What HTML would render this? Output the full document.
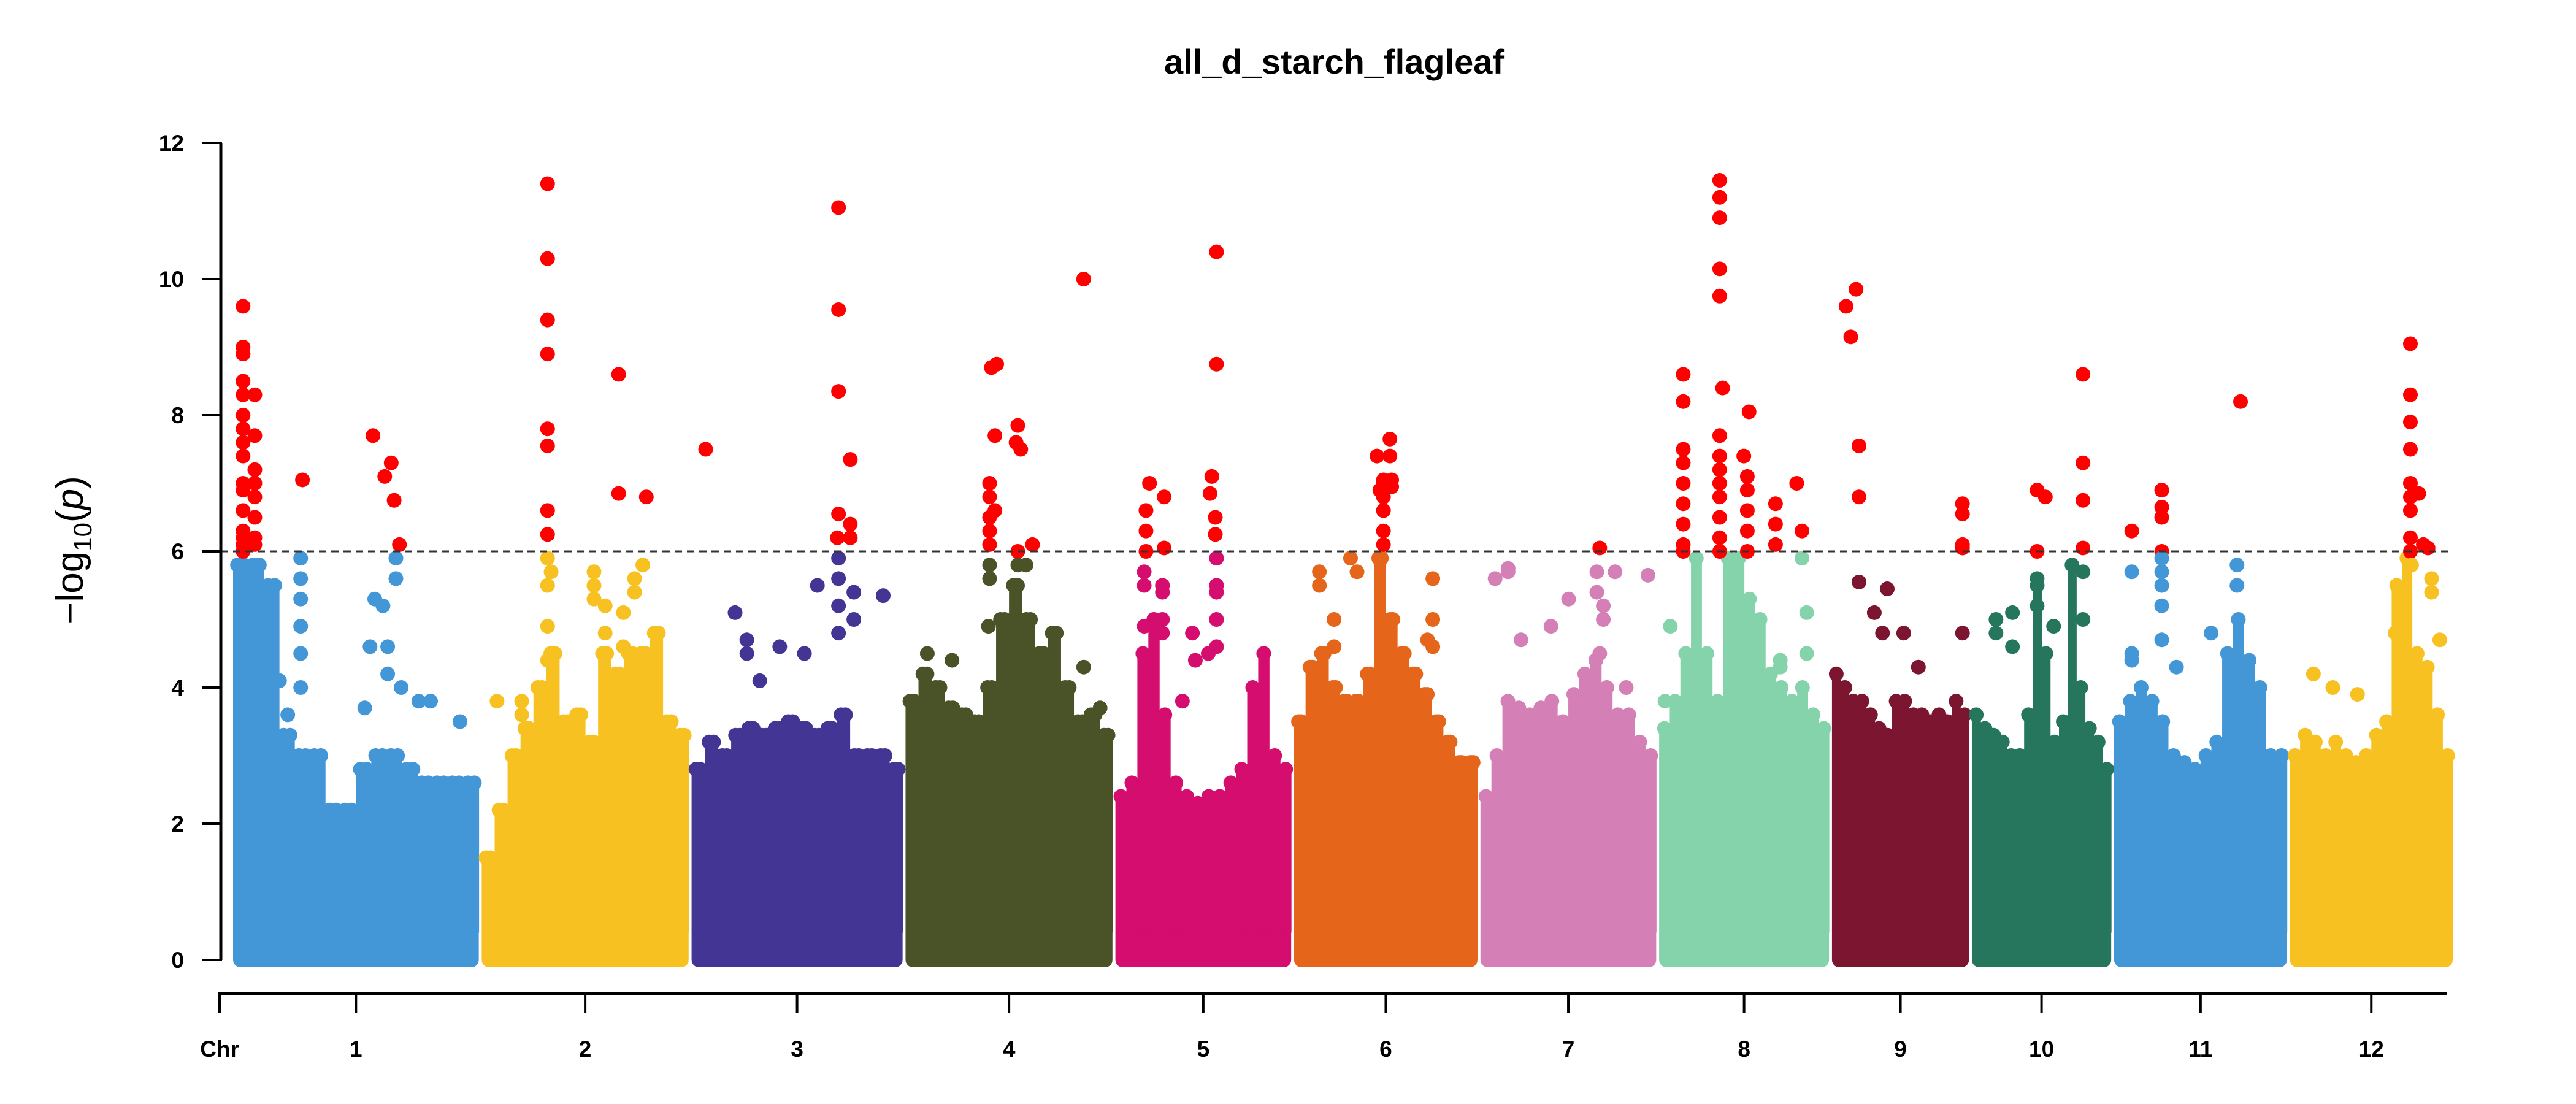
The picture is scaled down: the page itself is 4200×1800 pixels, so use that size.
<!DOCTYPE html>
<html><head><meta charset="utf-8"><style>
html,body{margin:0;padding:0;background:#fff;}
svg{display:block;font-family:"Liberation Sans",Arial,sans-serif;}
</style></head><body>
<svg id="chart" width="4200" height="1800" viewBox="0 0 4200 1800" xmlns="http://www.w3.org/2000/svg">
<rect width="4200" height="1800" fill="#fff"/>
<text x="2175" y="120" text-anchor="middle" font-size="56" font-weight="bold">all_d_starch_flagleaf</text>
<g id="marks"></g>
<g id="axes"></g>
<text transform="translate(135,897) rotate(-90)" text-anchor="middle" font-size="62">−log<tspan font-size="42" dy="14">10</tspan><tspan dy="-14">(</tspan><tspan font-style="italic">p</tspan>)</text>
</svg>
<script>
const chrNames = ["1","2","3","4","5","6","7","8","9","10","11","12"];
const chrLengths = [41.8,35.2,35.9,35.2,29.9,31.2,29.9,28.9,23.3,23.7,29.4,27.7];
const chrColors = ["#4397d7","#f7c122","#433594","#4a5328","#d50d6f","#e5651a","#d480b7","#84d3ab","#7b1530","#26765e","#4397d7","#f7c122"];
const yTicks = [0,2,4,6,8,10,12];
const threshold = 6;
// dense-background envelope (-log10 p) per chromosome, 16 equal bins
const envelopes = [
 [5.8,5.8,5.5,3.3,3.0,3.0,2.2,2.2,2.8,3.0,3.0,2.8,2.6,2.6,2.6,2.6],
 [1.5,2.2,3.0,3.4,4.0,4.5,3.5,3.6,3.2,4.5,4.2,4.5,4.5,4.8,3.5,3.3],
 [2.8,3.2,3.0,3.3,3.4,3.3,3.4,3.5,3.4,3.3,3.4,3.6,3.0,3.0,3.0,2.8],
 [3.8,4.2,4.0,3.7,3.6,3.5,4.0,5.0,5.5,5.0,4.5,4.8,4.0,3.5,3.6,3.3],
 [2.4,2.6,4.5,5.0,3.6,2.6,2.4,2.3,2.4,2.4,2.6,2.8,4.0,4.5,3.0,2.8],
 [3.5,4.3,4.5,4.0,3.8,3.8,4.2,5.9,5.0,4.5,4.2,3.9,3.5,3.2,2.9,2.9],
 [2.4,3.0,3.8,3.7,3.6,3.7,3.8,3.5,3.9,4.2,4.4,4.0,3.6,3.6,3.2,3.0],
 [3.4,3.8,4.5,5.9,4.5,3.8,5.9,5.9,5.3,5.0,4.2,4.0,3.8,4.0,3.6,3.4],
 [4.2,4.0,3.8,3.8,3.6,3.4,3.3,3.8,3.8,3.6,3.6,3.5,3.6,3.5,3.8,3.6],
 [3.6,3.4,3.3,3.2,3.0,3.0,3.6,5.5,4.5,3.2,3.5,5.8,4.0,3.4,3.2,2.8],
 [3.5,3.8,4.0,3.8,3.5,3.0,2.9,2.8,3.0,3.2,4.5,5.0,4.4,4.0,3.0,3.0],
 [3.0,3.3,3.2,3.0,3.2,3.0,2.9,3.0,3.3,3.5,5.5,5.9,4.5,4.3,3.6,3.0]
];
// individual SNPs: chromosome index, position (Mb), -log10 p
const snpChr = [];
const snpPos = [];
const snpVal = [];
const snpList = [
 [0,1.7,[9.6,9.0,8.9,8.5,8.3,8.0,7.8,7.6,7.4,7.0,6.9,6.6,6.3,6.2,6.1,6.0]],
 [0,3.7,[8.3,7.7,7.2,7.0,6.8,6.5,6.2,6.1]],
 [0,11.8,[7.05]],[0,23.8,[7.7]],[0,26.9,[7.3]],[0,25.8,[7.1]],[0,27.4,[6.75]],[0,28.3,[6.1]],
 [0,11.5,[5.9,5.6,5.3,4.9,4.5,4.0]],[0,9.3,[3.6]],[0,7.9,[4.1]],[0,24.1,[5.3]],[0,25.5,[5.2]],[0,26.3,[4.6,4.2]],
 [0,27.7,[5.9,5.6]],[0,23.3,[4.6]],[0,22.4,[3.7]],[0,28.6,[4.0]],[0,31.6,[3.8]],[0,33.6,[3.8]],[0,38.6,[3.5]],
 [1,11.2,[11.4,10.3,9.4,8.9,7.8,7.55,6.6,6.25,5.9,5.5,4.9,4.4]],[1,23.3,[8.6,6.85]],[1,28.0,[6.8]],
 [1,11.8,[5.7]],[1,19.1,[5.7,5.5,5.3]],[1,21.0,[5.2,4.8]],[1,26.0,[5.6,5.4]],[1,27.4,[5.8]],[1,24.1,[5.1,4.6]],[1,6.8,[3.8,3.6]],[1,2.6,[3.8]],
 [2,2.4,[7.5]],[2,25.0,[11.05,9.55,8.35,6.55,5.9,5.6,5.2,4.8]],[2,27.0,[7.35,6.4,6.2]],[2,24.8,[6.2]],
 [2,32.6,[5.35]],[2,21.4,[5.5]],[2,27.6,[5.4,5.0]],[2,7.4,[5.1]],[2,9.4,[4.7,4.5]],[2,11.6,[4.1]],[2,15.0,[4.6]],[2,19.2,[4.5]],
 [3,14.6,[8.7]],[3,15.5,[8.75]],[3,15.2,[7.7,6.6]],[3,19.1,[7.85,6.0,5.8]],[3,18.8,[7.6]],[3,19.6,[7.5]],[3,30.3,[10.0,4.3]],
 [3,14.3,[7.0,6.8,6.5,6.3,6.1,5.8,5.6]],[3,21.6,[6.1]],[3,20.5,[5.8]],[3,14.1,[4.9]],[3,3.7,[4.5]],[3,7.9,[4.4]],[3,33.1,[3.7]],
 [4,5.8,[7.0]],[4,5.2,[6.6,6.3,6.0]],[4,8.3,[6.8,6.05]],[4,17.2,[10.4,8.75,5.9,5.5,5.4,5.0,4.6]],[4,16.4,[7.1]],[4,16.1,[6.85]],[4,17.0,[6.5,6.25]],
 [4,4.9,[5.7,5.5,4.9]],[4,8.0,[5.5,5.4,5.0,4.8]],[4,15.8,[4.5]],[4,13.1,[4.8]],[4,13.6,[4.4]],[4,11.4,[3.8]],
 [5,14.1,[7.4]],[5,16.3,[7.65,7.4]],[5,15.2,[7.05,7.0,6.8,6.6,6.3,6.1]],[5,14.6,[6.9]],[5,16.6,[6.95,7.05]],
 [5,4.3,[5.7,5.5]],[5,6.8,[5.0,4.6]],[5,9.6,[5.9]],[5,10.7,[5.7]],[5,23.6,[5.6,5.0,4.6]],[5,22.7,[4.7]],[5,13.8,[4.0]],
 [6,20.3,[6.05,4.5]],[6,4.7,[5.7,5.75]],[6,2.5,[5.6]],[6,6.9,[4.7]],[6,12.0,[4.9]],[6,15.0,[5.3]],[6,19.8,[5.7,5.4]],[6,20.9,[5.2,5.0]],[6,22.9,[5.7]],[6,28.5,[5.65]],[6,24.8,[4.0]],
 [7,4.1,[8.6,8.2,7.5,7.3,7.0,6.7,6.4,6.1,6.0]],[7,10.3,[11.45,11.2,10.9,10.15,9.75,7.7,7.4,7.2,7.0,6.8,6.5,6.2,6.0]],[7,10.8,[8.4]],
 [7,15.3,[8.05]],[7,14.4,[7.4]],[7,15.0,[7.1,6.9,6.6,6.3,6.0]],[7,19.8,[6.7,6.4,6.1]],[7,23.4,[7.0]],[7,24.3,[6.3,5.9]],
 [7,1.9,[4.9]],[7,1.0,[3.8]],[7,25.1,[5.1,4.5]],[7,20.6,[4.4,4.3]],
 [8,2.4,[9.6]],[8,4.1,[9.85]],[8,3.2,[9.15]],[8,4.6,[7.55,6.8,5.55]],[8,22.2,[6.7,6.55,6.1,6.05,4.8]],[8,9.4,[5.45]],[8,7.2,[5.1]],[8,8.6,[4.8]],[8,12.2,[4.8]],[8,14.7,[4.3]],
 [9,11.1,[6.9,6.0,5.6,5.2]],[9,12.5,[6.8]],[9,18.9,[8.6,7.3,6.75,6.05,5.7,5.0]],[9,13.9,[4.9]],[9,4.1,[5.0,4.8]],[9,6.9,[5.1,4.6]],
 [10,3.0,[6.3,5.7,4.5,4.4]],[10,8.1,[6.9,6.65,6.5,6.0,5.9,5.7,5.5,5.2,4.7]],[10,21.5,[8.2]],[10,20.9,[5.8,5.5]],[10,16.5,[4.8]],[10,10.6,[4.3]],
 [11,20.5,[9.05,8.3,7.9,7.5,7.0,6.8,6.6,6.2,6.0]],[11,21.9,[6.85]],[11,23.5,[6.05]],[11,22.7,[6.1]],[11,4.0,[4.2]],[11,7.3,[4.0]],[11,11.5,[3.9]],
 [11,24.1,[5.6,5.4]],[11,25.5,[4.7]],[11,20.7,[5.8]],[11,17.9,[4.8]],[11,19.3,[5.0]]
];
snpList.forEach(function(s){ s[2].forEach(function(v){ snpChr.push(s[0]); snpPos.push(s[1]); snpVal.push(v); }); });

const NS = "http://www.w3.org/2000/svg";
const X0 = 380, X1 = 3999, GAP = 0.5;
const total = chrLengths.reduce((a,b)=>a+b,0) + GAP*(chrLengths.length-1);
const offsets = [];
let acc = 0;
chrLengths.forEach(function(l){ offsets.push(acc); acc += l + GAP; });
function xScale(chr, mb){ return X0 + (offsets[chr] + mb) / total * (X1 - X0); }
const Y0 = 1565, Y12 = 233;
function yScale(v){ return Y0 - v / 12 * (Y0 - Y12); }
function mk(tag, attrs, parent){ const e = document.createElementNS(NS, tag); for (const k in attrs) e.setAttribute(k, attrs[k]); parent.appendChild(e); return e; }

const marks = document.getElementById('marks');
const R = 12;
envelopes.forEach(function(env, c){
  const g = mk('g', {fill: chrColors[c]}, marks);
  
  
  const xs = xScale(c, 0), xe = xScale(c, chrLengths[c]);
  const base = mk('rect', {x: xs, y: yScale(0.5), width: xe - xs, height: yScale(0) - yScale(0.5) + R, rx: R}, g);
  
  
  const n = env.length, bw = (xe - xs) / n;
  env.forEach(function(v, i){
    const bx = xs + i * bw;
    const top = yScale(v);
    const r = mk('rect', {x: bx, y: top, width: bw + 0.5, height: yScale(0.4) - top}, g);
    
    
    const cnt = Math.max(1, Math.round(bw / 12));
    for (let k = 0; k < cnt; k++) {
      const cx = bx + R * 0.6 + (bw - 1.2 * R) * (cnt === 1 ? 0.5 : k / (cnt - 1));
      mk('circle', {cx: cx, cy: top, r: R}, g);
    }
  });
});
const pg = mk('g', {}, marks);


for (let i = 0; i < snpVal.length; i++) {
  const v = snpVal[i];
  const col = v >= threshold - 0.03 ? "#ff0000" : chrColors[snpChr[i]];
  const c = mk('circle', {cx: xScale(snpChr[i], snpPos[i]), cy: yScale(v), r: R, fill: col}, pg);
  
  
}
const th = mk('line', {x1: 360, x2: 4000, y1: yScale(threshold), y2: yScale(threshold), stroke: "#333", 'stroke-width': 3, 'stroke-dasharray': "12 8"}, marks);



const axes = document.getElementById('axes');
const ya = mk('line', {x1: 360, x2: 360, y1: yScale(12), y2: yScale(0), stroke: "#000", 'stroke-width': 5}, axes);


yTicks.forEach(function(t){
  const y = yScale(t);
  const l = mk('line', {x1: 329, x2: 362, y1: y, y2: y, stroke: "#000", 'stroke-width': 4}, axes);
  
  
  const tx = mk('text', {x: 300, y: y + 13, 'text-anchor': 'end', 'font-size': 37, 'font-weight': 'bold'}, axes);
  tx.textContent = t;
  
  
});
const xa = mk('line', {x1: 358, x2: 3989, y1: 1620, y2: 1620, stroke: "#000", 'stroke-width': 5}, axes);


const xtPos = [358];
const xtLab = ["Chr"];
chrNames.forEach(function(n, c){ xtPos.push(xScale(c, chrLengths[c] / 2)); xtLab.push(n); });
xtPos.forEach(function(x, i){
  const l = mk('line', {x1: x, x2: x, y1: 1618, y2: 1652, stroke: "#000", 'stroke-width': 4}, axes);
  
  
  const tx = mk('text', {x: x, y: 1723, 'text-anchor': 'middle', 'font-size': 37, 'font-weight': 'bold'}, axes);
  tx.textContent = xtLab[i];
  
  
});
</script>
</body></html>
